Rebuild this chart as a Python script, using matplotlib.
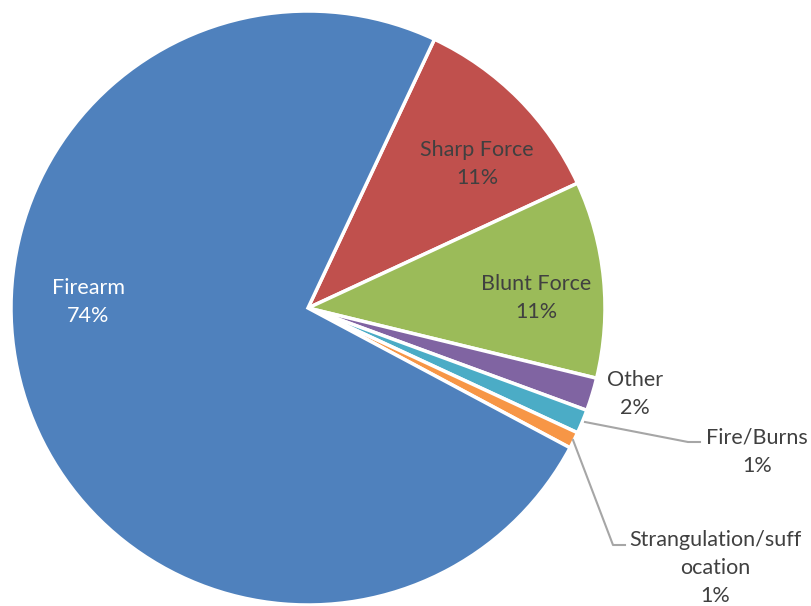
import matplotlib
matplotlib.use("Agg")
import matplotlib.pyplot as plt

categories = ["Sharp Force", "Blunt Force", "Other", "Fire/Burns",
              "Strangulation/suff\nocation", "Firearm"]
values = [11.1, 10.7, 1.8, 1.3, 0.9, 74.2]
colors = ["#C0504D", "#9BBB59", "#8064A2", "#4BACC6", "#F79646", "#4F81BD"]

plt.rcParams['font.family'] = ['Lato', 'DejaVu Sans']

W, H = 811, 606
fig = plt.figure(figsize=(W / 100, H / 100), dpi=100)
cx, cy, r = 308, 308, 297
ax = fig.add_axes([(cx - r) / W, (H - cy - r) / H, 2 * r / W, 2 * r / H])

start = 90 - 25.2
ax.pie(values, colors=colors, startangle=start, counterclock=False,
       radius=1, wedgeprops=dict(edgecolor="white", linewidth=2.5))
ax.set_xlim(-1, 1)
ax.set_ylim(-1, 1)
ax.set_aspect("equal")
ax.axis("off")

# label positions (pixel -> data)
def d(px, py):
    return ((px - cx) / r, (cy - py) / r)

label_pos = [d(477, 164), d(536, 298), d(635, 394), d(757, 452),
             d(715, 568), d(88, 302)]
label_col = ["#404040", "#404040", "#404040", "#404040", "#404040", "white"]

for cat, v, pos, col in zip(categories, values, label_pos, label_col):
    ax.text(pos[0], pos[1], f"{cat}\n{round(v)}%", ha="center", va="center",
            fontsize=15.5, color=col, linespacing=1.5)

# leader lines
fire = [d(585, 422), d(688, 442), d(700, 442)]
strang = [d(573, 440), d(613, 545), d(625, 545)]
for pts in (fire, strang):
    ax.plot([p[0] for p in pts], [p[1] for p in pts], color="#A6A6A6",
            lw=1.5, clip_on=False)

fig.savefig("out.png", dpi=100)
